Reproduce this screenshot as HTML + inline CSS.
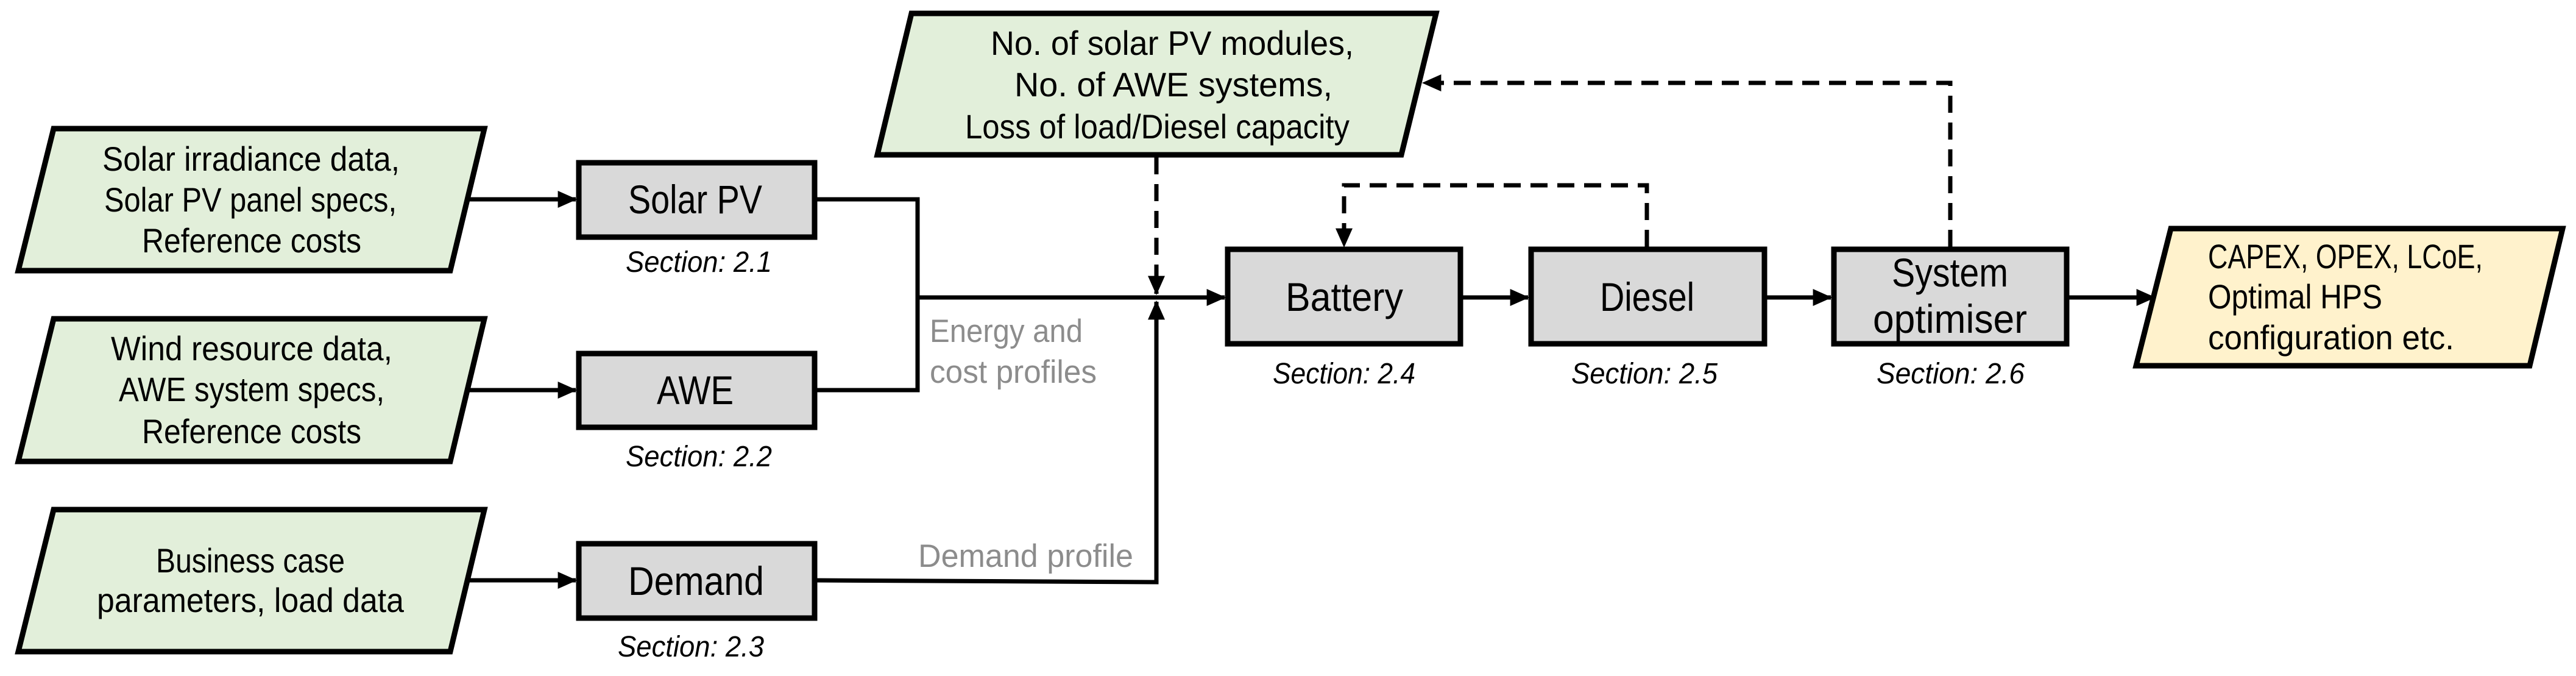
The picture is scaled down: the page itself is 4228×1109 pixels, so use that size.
<!DOCTYPE html>
<html><head><meta charset="utf-8"><style>html,body{margin:0;padding:0;background:#fff}svg{display:block}</style></head><body>
<svg width="4228" height="1109" viewBox="0 0 4228 1109" xmlns="http://www.w3.org/2000/svg" font-family="'Liberation Sans Narrow','Liberation Sans',sans-serif">
<defs>
<marker id="a" markerWidth="5" markerHeight="5" refX="4.2" refY="2.5" orient="auto" markerUnits="strokeWidth"><path d="M0,0.5 L4.5,2.5 L0,4.5 z" fill="#000"/></marker>
</defs>
<g stroke="#000" stroke-width="9">
<polygon points="88,211 795,211 739,444 30,444" fill="#e2efda"/>
<polygon points="88,523 795,523 739,757 30,757" fill="#e2efda"/>
<polygon points="88,836 795,836 739,1069 30,1069" fill="#e2efda"/>
<polygon points="1496,22 2357,22 2300,254 1440,254" fill="#e2efda"/>
<polygon points="3563,375 4206,375 4152,600 3506,600" fill="#fff2cc"/>
<rect x="950" y="267" width="387" height="122" fill="#d9d9d9"/>
<rect x="950" y="580" width="387" height="121" fill="#d9d9d9"/>
<rect x="950" y="892" width="387" height="122" fill="#d9d9d9"/>
<rect x="2015" y="409" width="382" height="155" fill="#d9d9d9"/>
<rect x="2513" y="409" width="383" height="155" fill="#d9d9d9"/>
<rect x="3010" y="409" width="382" height="155" fill="#d9d9d9"/>
</g>
<g stroke="#000" stroke-width="7" fill="none">
<line x1="765" y1="327" x2="945" y2="327" marker-end="url(#a)"/>
<line x1="765" y1="640" x2="945" y2="640" marker-end="url(#a)"/>
<line x1="765" y1="952" x2="945" y2="952" marker-end="url(#a)"/>
<polyline points="1337,327 1506,327 1506,640 1337,640"/>
<line x1="1506" y1="488" x2="2010" y2="488" marker-end="url(#a)"/>
<polyline points="1337,952 1898,955 1898,495" marker-end="url(#a)"/>
<line x1="2397" y1="488" x2="2508" y2="488" marker-end="url(#a)"/>
<line x1="2896" y1="488" x2="3005" y2="488" marker-end="url(#a)"/>
<line x1="3392" y1="488" x2="3536" y2="488" marker-end="url(#a)"/>
<g stroke-dasharray="28,16">
<line x1="1898" y1="258" x2="1898" y2="482" marker-end="url(#a)"/>
<polyline points="2703,405 2703,304 2206,304 2206,404" marker-end="url(#a)"/>
<polyline points="3201,405 3201,136 2336,136" marker-end="url(#a)"/>
</g>
</g>
<g font-size="56" fill="#000" text-anchor="start">
<text x="168" y="280" textLength="488" lengthAdjust="spacingAndGlyphs">Solar irradiance data,</text>
<text x="171" y="347" textLength="480" lengthAdjust="spacingAndGlyphs">Solar PV panel specs,</text>
<text x="233" y="414" textLength="360" lengthAdjust="spacingAndGlyphs">Reference costs</text>
<text x="182" y="591" textLength="462" lengthAdjust="spacingAndGlyphs">Wind resource data,</text>
<text x="195" y="658" textLength="436" lengthAdjust="spacingAndGlyphs">AWE system specs,</text>
<text x="233" y="727" textLength="360" lengthAdjust="spacingAndGlyphs">Reference costs</text>
<text x="256" y="939" textLength="310" lengthAdjust="spacingAndGlyphs">Business case</text>
<text x="159" y="1004" textLength="504" lengthAdjust="spacingAndGlyphs">parameters, load data</text>
<text x="1626" y="90" textLength="596" lengthAdjust="spacingAndGlyphs">No. of solar PV modules,</text>
<text x="1665" y="158" textLength="522" lengthAdjust="spacingAndGlyphs">No. of AWE systems,</text>
<text x="1584" y="227" textLength="631" lengthAdjust="spacingAndGlyphs">Loss of load/Diesel capacity</text>
<text x="3624" y="440" textLength="451" lengthAdjust="spacingAndGlyphs">CAPEX, OPEX, LCoE,</text>
<text x="3624" y="506" textLength="286" lengthAdjust="spacingAndGlyphs">Optimal HPS</text>
<text x="3624" y="573" textLength="404" lengthAdjust="spacingAndGlyphs">configuration etc.</text>
</g>
<g font-size="66" fill="#000">
<text x="1031" y="350" textLength="220" lengthAdjust="spacingAndGlyphs">Solar PV</text>
<text x="1078" y="663" textLength="126" lengthAdjust="spacingAndGlyphs">AWE</text>
<text x="1031" y="976" textLength="223" lengthAdjust="spacingAndGlyphs">Demand</text>
<text x="2110" y="510" textLength="193" lengthAdjust="spacingAndGlyphs">Battery</text>
<text x="2626" y="510" textLength="155" lengthAdjust="spacingAndGlyphs">Diesel</text>
<text x="3105" y="470" textLength="191" lengthAdjust="spacingAndGlyphs">System</text>
<text x="3074" y="546" textLength="253" lengthAdjust="spacingAndGlyphs">optimiser</text>
</g>
<g font-size="48" font-style="italic" fill="#000">
<text x="1027" y="446" textLength="240" lengthAdjust="spacingAndGlyphs">Section: 2.1</text>
<text x="1027" y="765" textLength="240" lengthAdjust="spacingAndGlyphs">Section: 2.2</text>
<text x="1014" y="1077" textLength="240" lengthAdjust="spacingAndGlyphs">Section: 2.3</text>
<text x="2089" y="629" textLength="234" lengthAdjust="spacingAndGlyphs">Section: 2.4</text>
<text x="2579" y="629" textLength="240" lengthAdjust="spacingAndGlyphs">Section: 2.5</text>
<text x="3080" y="629" textLength="243" lengthAdjust="spacingAndGlyphs">Section: 2.6</text>
</g>
<g font-size="53" fill="#8c8c8c">
<text x="1526" y="561" textLength="251" lengthAdjust="spacingAndGlyphs">Energy and</text>
<text x="1526" y="628" textLength="274" lengthAdjust="spacingAndGlyphs">cost profiles</text>
<text x="1507" y="930" textLength="353" lengthAdjust="spacingAndGlyphs">Demand profile</text>
</g>
</svg>
</body></html>
